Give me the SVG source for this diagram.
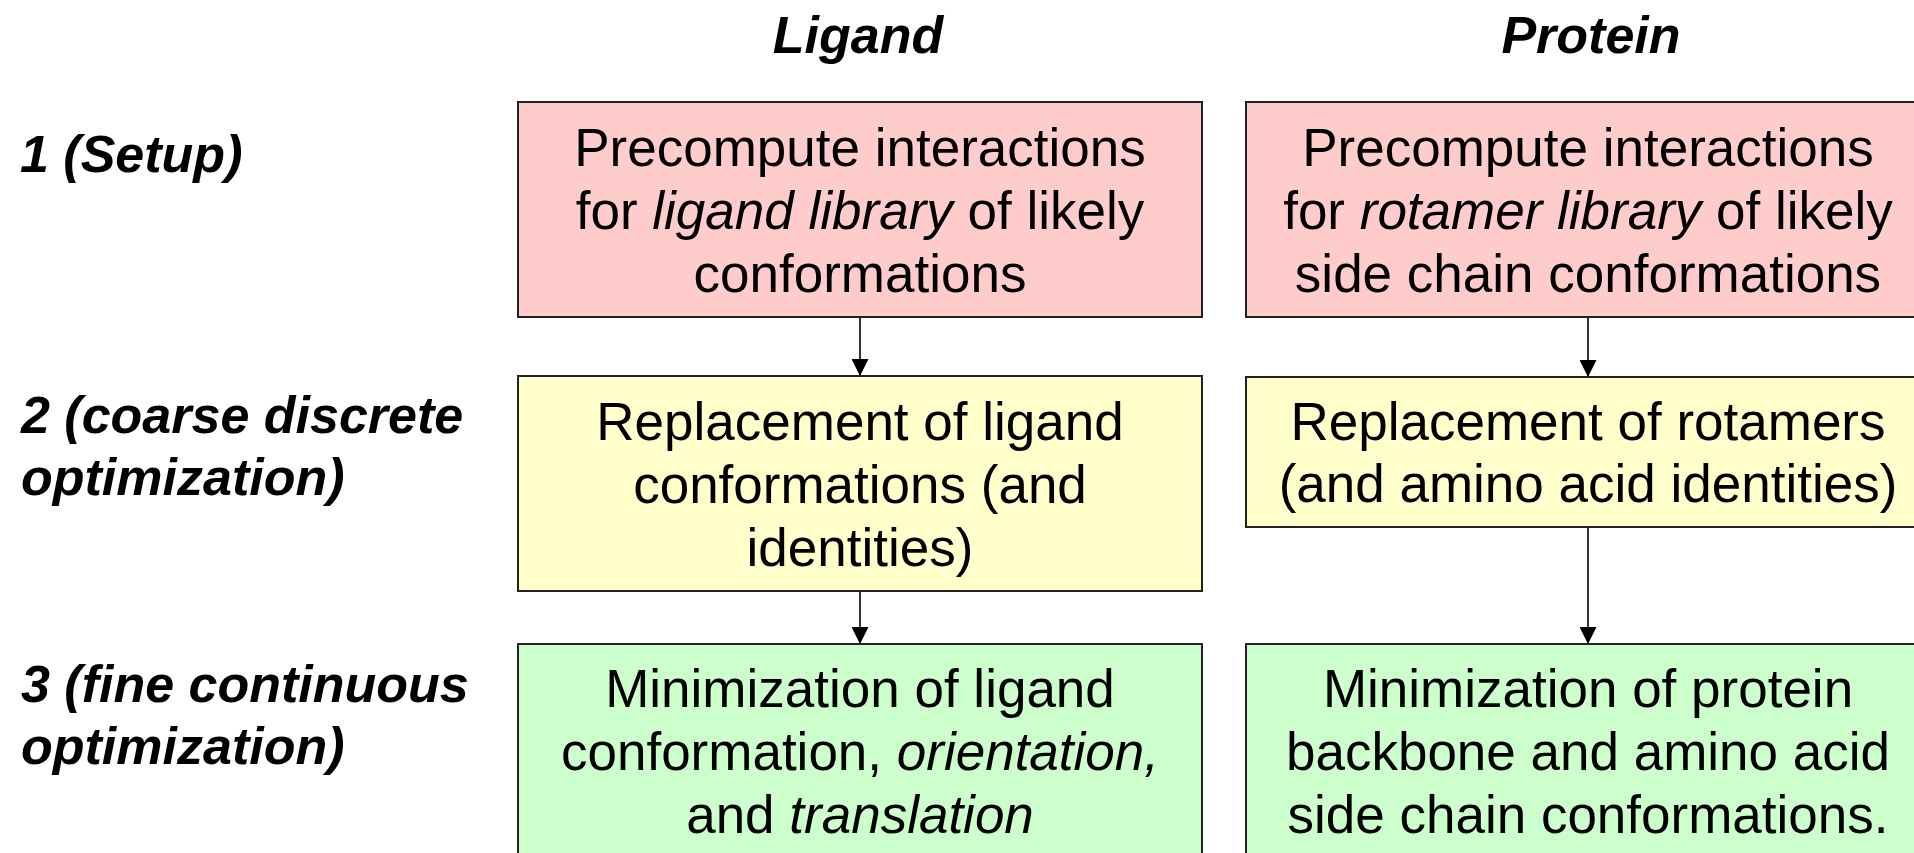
<svg xmlns="http://www.w3.org/2000/svg" width="1914" height="853" viewBox="0 0 1914 853">
  <style>
    .hdr { font-family: "Liberation Sans", Arial, sans-serif; font-size: 52px; font-weight: bold; font-style: italic; fill: #000; }
    .lbl { font-family: "Liberation Sans", Arial, sans-serif; font-size: 52px; font-weight: bold; font-style: italic; fill: #000; }
    .txt { font-family: "Liberation Sans", Arial, sans-serif; font-size: 53px; fill: #000; text-anchor: middle; }
    .it { font-style: italic; }
    .box { stroke: #222; stroke-width: 2; }
    .setup { fill: #FFCCCC; }
    .coarse { fill: #FFFFCC; }
    .fine { fill: #CCFFCC; }
    .conn { stroke: #000; stroke-width: 1.6; fill: none; marker-end: url(#arrow); }
  </style>
  <defs>
    <marker id="arrow" viewBox="0 0 10 10" refX="10" refY="5" markerWidth="17" markerHeight="17" markerUnits="userSpaceOnUse" orient="auto">
      <path d="M0,0 L10,5 L0,10 Z" fill="#000"/>
    </marker>
  </defs>

  <rect width="1914" height="853" fill="#fff"/>

  <!-- column headers -->
  <g id="header-ligand"><text class="hdr" x="858" y="53" text-anchor="middle">Ligand</text></g>
  <g id="header-protein"><text class="hdr" x="1591" y="53" text-anchor="middle">Protein</text></g>

  <!-- row labels -->
  <g id="label-setup"><text class="lbl" x="20" y="172">1 (Setup)</text></g>
  <g id="label-coarse">
    <text class="lbl" x="21" y="433">2 (coarse discrete</text>
    <text class="lbl" x="21" y="495">optimization)</text>
  </g>
  <g id="label-fine">
    <text class="lbl" x="21" y="702">3 (fine continuous</text>
    <text class="lbl" x="21" y="764">optimization)</text>
  </g>

  <!-- connectors -->
  <g id="connectors">
    <line class="conn" x1="860" y1="318" x2="860" y2="376"/>
    <line class="conn" x1="860" y1="592" x2="860" y2="644"/>
    <line class="conn" x1="1588" y1="318" x2="1588" y2="377"/>
    <line class="conn" x1="1588" y1="528" x2="1588" y2="644"/>
  </g>

  <!-- ligand column -->
  <g id="ligand-setup">
    <rect class="box setup" x="518" y="102" width="684" height="215"/>
    <text class="txt" x="860" y="166">Precompute interactions</text>
    <text class="txt" x="860" y="229">for <tspan class="it">ligand library</tspan> of likely</text>
    <text class="txt" x="860" y="292">conformations</text>
  </g>
  <g id="ligand-coarse">
    <rect class="box coarse" x="518" y="376" width="684" height="215"/>
    <text class="txt" x="860" y="440">Replacement of ligand</text>
    <text class="txt" x="860" y="503">conformations (and</text>
    <text class="txt" x="860" y="566">identities)</text>
  </g>
  <g id="ligand-fine">
    <rect class="box fine" x="518" y="644" width="684" height="230"/>
    <text class="txt" x="860" y="707">Minimization of ligand</text>
    <text class="txt" x="860" y="770">conformation, <tspan class="it">orientation,</tspan></text>
    <text class="txt" x="860" y="833">and <tspan class="it">translation</tspan></text>
  </g>

  <!-- protein column -->
  <g id="protein-setup">
    <rect class="box setup" x="1246" y="102" width="684" height="215"/>
    <text class="txt" x="1588" y="166">Precompute interactions</text>
    <text class="txt" x="1588" y="229">for <tspan class="it">rotamer library</tspan> of likely</text>
    <text class="txt" x="1588" y="292">side chain conformations</text>
  </g>
  <g id="protein-coarse">
    <rect class="box coarse" x="1246" y="377" width="684" height="150"/>
    <text class="txt" x="1588" y="440">Replacement of rotamers</text>
    <text class="txt" x="1588" y="502">(and amino acid identities)</text>
  </g>
  <g id="protein-fine">
    <rect class="box fine" x="1246" y="644" width="684" height="230"/>
    <text class="txt" x="1588" y="707">Minimization of protein</text>
    <text class="txt" x="1588" y="770">backbone and amino acid</text>
    <text class="txt" x="1588" y="833">side chain conformations.</text>
  </g>
</svg>
